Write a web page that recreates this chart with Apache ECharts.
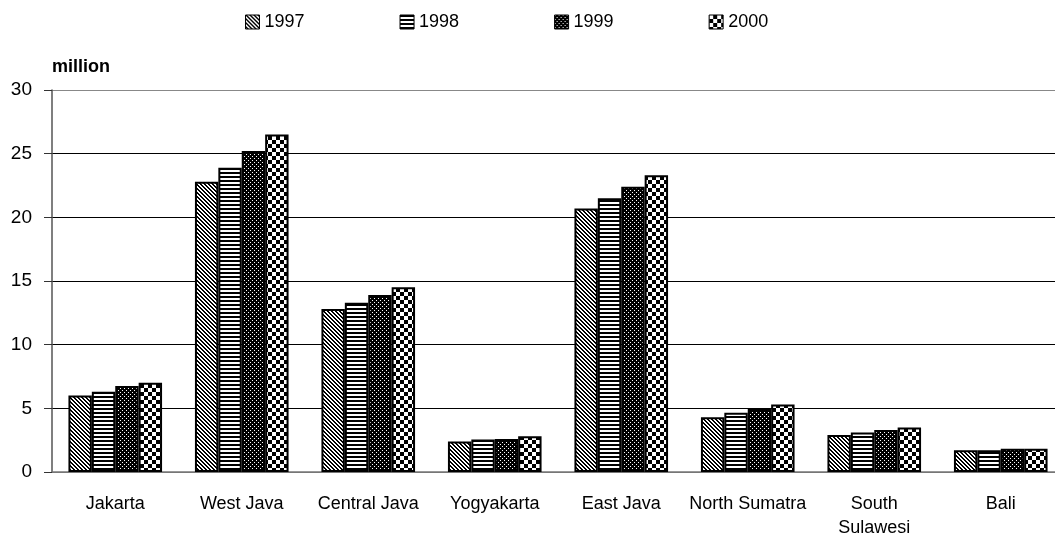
<!DOCTYPE html>
<html>
<head>
<meta charset="utf-8">
<script src="https://cdn.jsdelivr.net/npm/echarts@6/dist/echarts.min.js"></script>
<style>
  html, body { margin: 0; padding: 0; background: #fff; }
  #chart { width: 1055px; height: 544px; }
</style>
</head>
<body>
<div id="chart"></div>
<script>
"use strict";

// Population by province, million
const provinces = ["Jakarta", "West Java", "Central Java", "Yogyakarta",
                   "East Java", "North Sumatra", "South Sulawesi", "Bali"];
const years = ["1997", "1998", "1999", "2000"];
const pop1997 = [6.0, 22.8, 12.8, 2.4, 20.7, 4.3, 2.9, 1.7];
const pop1998 = [6.3, 23.9, 13.3, 2.55, 21.5, 4.65, 3.1, 1.7];
const pop1999 = [6.75, 25.2, 13.9, 2.6, 22.4, 4.95, 3.3, 1.83];
const pop2000 = [7.0, 26.5, 14.5, 2.8, 23.3, 5.3, 3.5, 1.83];
const yTicks = [0, 5, 10, 15, 20, 25, 30];

// Monochrome fill patterns, one per year (tiny canvases tiled by ECharts).
const tile = (w, h, black) => {
  const c = document.createElement("canvas");
  c.width = w; c.height = h;
  const g = c.getContext("2d");
  g.fillStyle = "#fff"; g.fillRect(0, 0, w, h);
  g.fillStyle = "#000";
  for (let y = 0; y < h; y++)
    for (let x = 0; x < w; x++)
      if (black(x, y)) g.fillRect(x, y, 1, 1);
  return { image: c, repeat: "repeat" };
};
const patterns = [
  tile(4, 4, (x, y) => ((x - y + 8) % 4) < 2),          // diagonal hatch
  tile(4, 4, (x, y) => y < 2),                           // horizontal stripes
  tile(4, 4, (x, y) => !((x === 0 && y === 0) || (x === 2 && y === 2))), // black, white dots
  tile(8, 8, (x, y) => ((x < 4) !== (y < 4))),           // checkerboard
];

const seriesData = [pop1997, pop1998, pop1999, pop2000];
const font = "'Liberation Sans', Arial, sans-serif";

const chart = echarts.init(document.getElementById("chart"), null, { renderer: "canvas" });
chart.setOption({
  animation: false,
  backgroundColor: "#fff",
  textStyle: { fontFamily: font, color: "#000" },
  legend: {
    left: 240, top: 8,
    itemWidth: 14, itemHeight: 14, itemGap: 95,
    icon: "rect",
    textStyle: { fontSize: 18, color: "#000", fontFamily: font },
    itemStyle: { borderColor: "#000", borderWidth: 1 },
    data: years,
  },
  // plot runs 8 x 126.5 px from the axis at x=52, past the right edge
  grid: { left: 52, width: 1012, top: 90, bottom: 72, containLabel: false, outerBoundsMode: "none" },
  xAxis: {
    type: "category",
    data: provinces,
    axisLine: { lineStyle: { color: "#777", width: 1.5 } },
    axisTick: { length: 7, lineStyle: { color: "#333" } },
    axisLabel: {
      fontSize: 18, color: "#000", margin: 20, lineHeight: 24, interval: 0,
      formatter: (v) => v === "South Sulawesi" ? "South\nSulawesi" : v,
    },
    splitLine: { show: false },
  },
  yAxis: {
    type: "value",
    min: yTicks[0], max: yTicks[yTicks.length - 1], interval: 5,
    name: "million",
    nameLocation: "end",
    nameGap: 14,
    nameTextStyle: { fontSize: 18, fontWeight: "bold", color: "#000", align: "left" },
    axisLine: { show: true, lineStyle: { color: "#555", width: 1.5 } },
    axisTick: { show: true, length: 8, lineStyle: { color: "#333" } },
    axisLabel: { fontSize: 19, color: "#000", margin: 20 },
    splitLine: { lineStyle: { color: ["#777", "#000", "#000", "#000", "#000", "#000", "#888"], width: 1 } },
  },
  series: years.map((y, i) => ({
    name: y,
    type: "bar",
    data: seriesData[i],
    barGap: "0%",
    barCategoryGap: "26%",
    itemStyle: { color: patterns[i], borderColor: "#000", borderWidth: 2 },
  })),
});
</script>
</body>
</html>
